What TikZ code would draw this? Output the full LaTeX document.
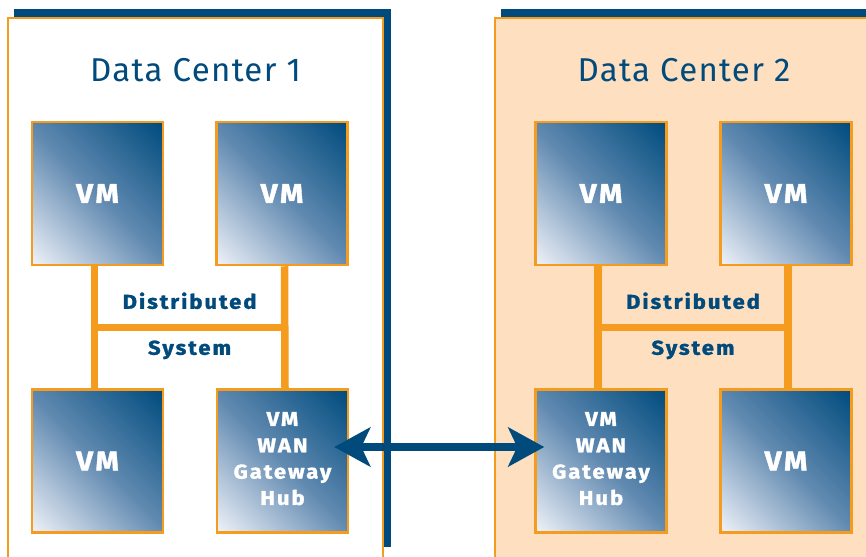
\documentclass[tikz,border=0pt]{standalone}
\usepackage{fontspec}
\setmainfont{Fira Sans}[LetterSpace=4]
\newfontfamily\heavyfont{Fira Sans}[BoldFeatures={FakeBold=1.5, FakeStretch=1.1, LetterSpace=10}]
\usetikzlibrary{arrows.meta,calc}

\definecolor{navy}{HTML}{004A7C}
\definecolor{orangeline}{HTML}{F59B1E}
\definecolor{peach}{HTML}{FEE0C0}
\definecolor{vmlight}{HTML}{EEF1F8}
\definecolor{vmmid}{HTML}{6089B0}
\definecolor{vmdark}{HTML}{004C7E}

% diagonal fill of the VM boxes: light corner, mid blue centre, dark corner
\pgfdeclareverticalshading{vmgrad}{100bp}{color(0bp)=(vmlight); color(15bp)=(vmlight); color(50bp)=(vmmid); color(85bp)=(vmdark); color(100bp)=(vmdark)}

\tikzset{
  panel/.style={draw=orangeline, line width=2.5pt},
  vm/.style={draw=orangeline, line width=2.5pt, minimum width=131pt,
    minimum height=143pt, inner sep=0pt,
    shading=vmgrad, shading angle=-45, text=white,
    font=\heavyfont\bfseries\fontsize{27}{30}\selectfont},
  gateway/.style={vm, align=center, text depth=5pt,
    font=\heavyfont\bfseries\fontsize{20}{26.3}\selectfont},
  link/.style={draw=orangeline, line width=7.5pt},
  dslabel/.style={text=navy, anchor=base,
    font=\heavyfont\bfseries\fontsize{20}{24}\selectfont},
  dctitle/.style={text=navy, anchor=base,
    font=\fontsize{33}{40}\selectfont},
  wan/.style={draw=navy, line width=8pt,
    arrows={Stealth[length=36pt,width=39pt,inset=9pt]-Stealth[length=36pt,width=39pt,inset=9pt]}}
}

\begin{document}
\begin{tikzpicture}[x=1pt,y=-1pt]
\useasboundingbox (0,0) rectangle (866,556);
\clip (0,0) rectangle (866,556);

% data center panels with their dark backing
\fill[navy] (14,9) rectangle (391,547);
\draw[panel, fill=white] (8,18) rectangle (383,600);
\fill[navy] (501,9) rectangle (900,547);
\draw[panel, fill=peach] (495,18) rectangle (900,600);

\node[dctitle] (t1) at (195.5,82) {Data Center 1};
\node[dctitle] (t2) at (684,82) {Data Center 2};

% data center 1
\node[vm] (a1) at (97.5,193.5) {VM};
\node[vm] (b1) at (282,193.5) {VM};
\node[vm] (c1) at (97.5,461) {VM};
\node[gateway] (g1) at (282.5,461) {VM\\WAN\\Gateway\\Hub};

% data center 2
\node[vm] (a2) at (601,193.5) {VM};
\node[vm] (b2) at (786,193.5) {VM};
\node[gateway] (g2) at (601,461) {VM\\WAN\\Gateway\\Hub};
\node[vm] (c2) at (786,461) {VM};

% distributed system links
\draw[link] ([xshift=-3pt]a1.south) -- ([xshift=-3pt]c1.north);
\draw[link] ([xshift=2.5pt]b1.south) -- ([xshift=2.5pt]g1.north);
\coordinate (m1l) at ($([xshift=-3pt]a1.south)!0.5!([xshift=-3pt]c1.north)$);
\coordinate (m1r) at ($([xshift=2.5pt]b1.south)!0.5!([xshift=2.5pt]g1.north)$);
\draw[link] (m1l) -- (m1r);

\draw[link] ([xshift=-3pt]a2.south) -- ([xshift=-3pt]g2.north);
\draw[link] ([xshift=2pt]b2.south) -- ([xshift=2pt]c2.north);
\coordinate (m2l) at ($([xshift=-3pt]a2.south)!0.5!([xshift=-3pt]g2.north)$);
\coordinate (m2r) at ($([xshift=2pt]b2.south)!0.5!([xshift=2pt]c2.north)$);
\draw[link] (m2l) -- (m2r);

\node[dslabel] (d1) at ($(m1l)!0.5!(m1r)+(0,-18.5)$) {Distributed};
\node[dslabel] (s1) at ($(m1l)!0.5!(m1r)+(0,27.5)$) {System};
\node[dslabel] (d2) at ($(m2l)!0.5!(m2r)+(0,-18.5)$) {Distributed};
\node[dslabel] (s2) at ($(m2l)!0.5!(m2r)+(0,27.5)$) {System};

% WAN link between the gateway hubs
\draw[wan] ($(g1.east)+(-15,-14)$) -- ($(g2.west)+(10,-14)$);
\end{tikzpicture}
\end{document}
